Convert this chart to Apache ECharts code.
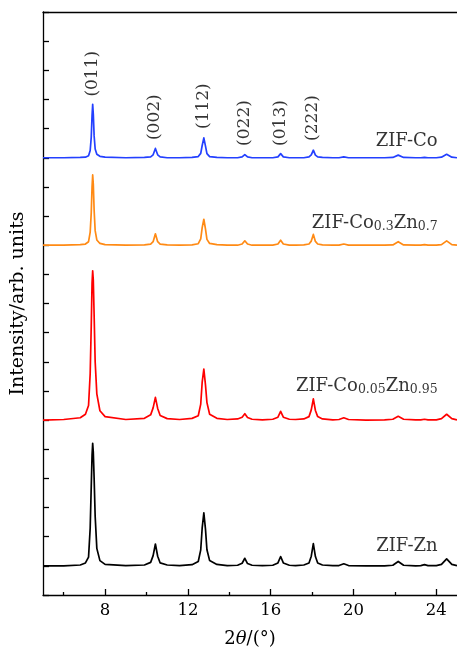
<!DOCTYPE html>
<html>
<head>
<meta charset="utf-8">
<script src="https://cdn.jsdelivr.net/npm/echarts@6/dist/echarts.min.js"></script>
<style>
html,body{margin:0;padding:0;background:#fff;}
#chart{width:457px;height:653px;}
</style>
</head>
<body>
<div id="chart"></div>
<script>
// 2θ sampling positions (degrees)
var twoTheta = [5.0, 6.0, 6.8, 7.05, 7.20, 7.28, 7.33, 7.37, 7.40, 7.43, 7.47, 7.52, 7.60, 7.75, 8.0, 9.0, 9.9, 10.2, 10.32, 10.43, 10.54, 10.66, 11.0, 11.6, 12.2, 12.5, 12.62, 12.69, 12.77, 12.85, 12.92, 13.05, 13.4, 13.9, 14.4, 14.62, 14.75, 14.88, 15.1, 15.6, 16.1, 16.35, 16.48, 16.61, 16.9, 17.2, 17.6, 17.85, 17.96, 18.06, 18.16, 18.27, 18.5, 19.0, 19.3, 19.53, 19.76, 20.6, 21.5, 21.9, 22.16, 22.42, 23.0, 23.25, 23.43, 23.6, 24.0, 24.25, 24.5, 24.75, 25.0];

// intensities (arb. units above each pattern's own baseline)
var zifZn = [0.0, 0.0, 0.03, 0.1, 0.3, 1.3, 2.7, 3.8, 4.2, 3.9, 3.0, 1.7, 0.6, 0.18, 0.05, 0.01, 0.03, 0.12, 0.35, 0.75, 0.33, 0.1, 0.03, 0.01, 0.04, 0.15, 0.55, 1.3, 1.82, 1.25, 0.55, 0.18, 0.05, 0.01, 0.02, 0.09, 0.26, 0.08, 0.02, 0.01, 0.02, 0.1, 0.32, 0.1, 0.02, 0.01, 0.03, 0.1, 0.33, 0.76, 0.32, 0.1, 0.03, 0.01, 0.01, 0.07, 0.01, 0.0, 0.0, 0.02, 0.15, 0.02, 0.0, 0.01, 0.04, 0.01, 0.01, 0.05, 0.24, 0.05, 0.01];
var zifCo005 = [0.0, 0.02, 0.08, 0.2, 0.5, 1.6, 3.2, 4.7, 5.12, 4.8, 3.6, 2.0, 0.9, 0.32, 0.12, 0.02, 0.06, 0.18, 0.42, 0.78, 0.4, 0.16, 0.05, 0.02, 0.06, 0.15, 0.55, 1.3, 1.75, 1.2, 0.6, 0.2, 0.06, 0.02, 0.04, 0.1, 0.22, 0.09, 0.03, 0.01, 0.03, 0.1, 0.3, 0.1, 0.03, 0.02, 0.04, 0.12, 0.35, 0.73, 0.33, 0.12, 0.04, 0.01, 0.02, 0.08, 0.02, 0.0, 0.01, 0.03, 0.13, 0.03, 0.01, 0.01, 0.03, 0.01, 0.01, 0.05, 0.2, 0.05, 0.01];
var zifCo03 = [0.0, 0.0, 0.02, 0.04, 0.12, 0.45, 1.1, 2.0, 2.41, 2.1, 1.2, 0.5, 0.18, 0.06, 0.02, 0.0, 0.01, 0.04, 0.12, 0.39, 0.12, 0.04, 0.01, 0.0, 0.01, 0.05, 0.22, 0.6, 0.89, 0.55, 0.2, 0.06, 0.02, 0.0, 0.0, 0.04, 0.15, 0.04, 0.0, 0.0, 0.0, 0.04, 0.17, 0.04, 0.0, 0.0, 0.01, 0.04, 0.14, 0.37, 0.13, 0.04, 0.01, 0.0, 0.0, 0.04, 0.0, 0.0, 0.0, 0.01, 0.12, 0.01, 0.0, 0.0, 0.02, 0.0, 0.0, 0.02, 0.15, 0.02, 0.0];
var zifCo = [0.0, 0.0, 0.01, 0.02, 0.07, 0.25, 0.7, 1.45, 1.83, 1.5, 0.75, 0.3, 0.12, 0.05, 0.02, 0.0, 0.01, 0.03, 0.1, 0.32, 0.1, 0.03, 0.0, 0.0, 0.01, 0.04, 0.15, 0.42, 0.68, 0.4, 0.14, 0.04, 0.01, 0.0, 0.0, 0.03, 0.11, 0.03, 0.0, 0.0, 0.0, 0.03, 0.14, 0.03, 0.0, 0.0, 0.0, 0.03, 0.1, 0.26, 0.09, 0.03, 0.01, 0.0, 0.0, 0.03, 0.0, 0.0, 0.0, 0.01, 0.09, 0.01, 0.0, 0.0, 0.01, 0.0, 0.0, 0.02, 0.12, 0.02, 0.0];

// vertical stacking offsets of the patterns
var seriesNames = ['ZIF-Zn', 'ZIF-Co0.05Zn0.95', 'ZIF-Co0.3Zn0.7', 'ZIF-Co'];
var seriesOffsets = [1, 6, 12, 15];
var seriesColors = ['#000000', '#ff0000', '#ff8a14', '#2340ff'];

// sample labels (rich text) and their anchor (right end, centre)
var sampleLabels = ['ZIF-Zn', 'ZIF-Co{s|0.05}Zn{s|0.95}', 'ZIF-Co{s|0.3}Zn{s|0.7}', 'ZIF-Co'];
var sampleLabelX = [24.09, 24.09, 24.09, 24.09];
var sampleLabelY = [1.65, 7.13, 12.75, 15.53];

// Miller index labels
var hklNames = ['(011)', '(002)', '(112)', '(022)', '(013)', '(222)'];
var hklX = [7.40, 10.43, 12.77, 14.75, 16.48, 18.06];
var hklY = [17.08, 15.59, 15.97, 15.39, 15.39, 15.56];

// axis ticks
var xMajorTicks = [8, 12, 16, 20, 24];
var xMinorTicks = [6, 10, 14, 18, 22];

var FONT = 'DejaVu Serif';
var TXT = '#000';
var allVals = [zifZn, zifCo005, zifCo03, zifCo];

var series = [];
allVals.forEach(function (vals, k) {
  series.push({
    name: seriesNames[k],
    type: 'line',
    showSymbol: false,
    symbol: 'none',
    lineStyle: { color: seriesColors[k], width: 1.7, join: 'round' },
    data: twoTheta.map(function (x, i) { return [x, vals[i] + seriesOffsets[k]]; }),
    silent: true,
    z: 2
  });
});

series.push({
  type: 'scatter',
  symbolSize: 1,
  itemStyle: { color: 'rgba(0,0,0,0)' },
  silent: true,
  z: 5,
  data: sampleLabels.map(function (t, i) { return { value: [sampleLabelX[i], sampleLabelY[i]], name: t }; }),
  label: {
    show: true,
    position: [0, 0],
    align: 'right',
    verticalAlign: 'middle',
    formatter: function (p) { return p.name; },
    color: TXT,
    fontFamily: FONT,
    fontSize: 18,
    rich: {
      s: { fontFamily: FONT, fontSize: 12.5, color: TXT, verticalAlign: 'bottom', padding: [7, 0, 0, 0] }
    }
  }
});

series.push({
  type: 'scatter',
  symbolSize: 1,
  itemStyle: { color: 'rgba(0,0,0,0)' },
  silent: true,
  z: 5,
  data: hklNames.map(function (t, i) { return { value: [hklX[i], hklY[i]], name: t }; }),
  label: {
    show: true,
    position: [0, 0],
    rotate: 90,
    align: 'left',
    verticalAlign: 'middle',
    formatter: function (p) { return p.name; },
    color: TXT,
    fontFamily: FONT,
    fontSize: 17
  }
});

var axisLineStyle = { color: '#000', width: 1.3 };

var option = {
  animation: false,
  backgroundColor: '#fff',
  grid: { left: 43, top: 12, width: 417, height: 590, containLabel: false },
  xAxis: [
    {
      type: 'value', min: 5, max: 25, position: 'bottom',
      axisLine: { show: true, lineStyle: axisLineStyle },
      axisTick: { show: true, inside: true, length: 6, customValues: xMajorTicks, lineStyle: axisLineStyle },
      axisLabel: { show: true, customValues: xMajorTicks, margin: 7, color: TXT, fontFamily: FONT, fontSize: 16.5 },
      splitLine: { show: false },
      name: '2{i|θ}/(°)',
      nameLocation: 'middle',
      nameGap: 35,
      nameTextStyle: { color: TXT, fontFamily: FONT, fontSize: 18, rich: { i: { fontStyle: 'italic', fontFamily: FONT, fontSize: 18, color: TXT } } }
    },
    {
      type: 'value', min: 5, max: 25, position: 'bottom',
      axisLine: { show: false },
      axisTick: { show: true, inside: true, length: 3, customValues: xMinorTicks, lineStyle: axisLineStyle },
      axisLabel: { show: false },
      splitLine: { show: false }
    },
    {
      type: 'value', min: 5, max: 25, position: 'top',
      axisLine: { show: true, lineStyle: axisLineStyle },
      axisTick: { show: false },
      axisLabel: { show: false },
      splitLine: { show: false }
    }
  ],
  yAxis: {
    type: 'value', min: 0, max: 20, interval: 1,
    axisLine: { show: true, lineStyle: axisLineStyle },
    axisTick: { show: true, inside: true, length: 6, lineStyle: axisLineStyle },
    axisLabel: { show: false },
    splitLine: { show: false },
    name: 'Intensity/arb. units',
    nameLocation: 'middle',
    nameGap: 15,
    nameTextStyle: { color: TXT, fontFamily: FONT, fontSize: 19 }
  },
  series: series
};

var chart = echarts.init(document.getElementById('chart'), null, { renderer: 'canvas' });
chart.setOption(option);
</script>
</body>
</html>
